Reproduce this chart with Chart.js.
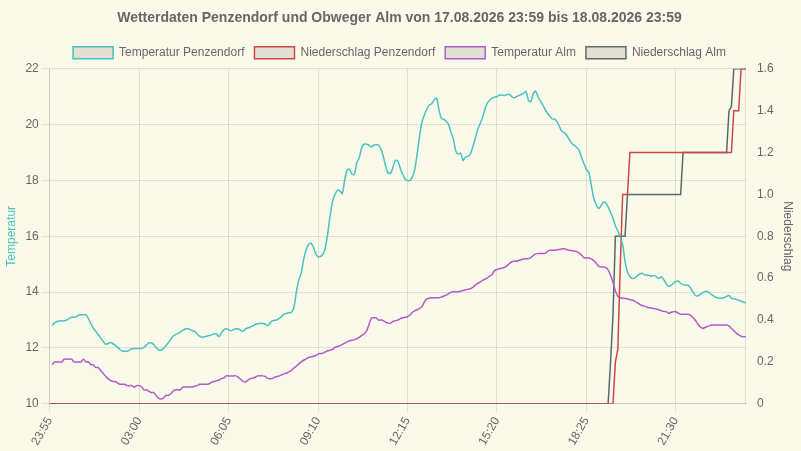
<!DOCTYPE html>
<html>
<head>
<meta charset="utf-8">
<title>Wetterdaten</title>
<script src="https://cdn.jsdelivr.net/npm/chart.js@4.4.1/dist/chart.umd.min.js"></script>
<style>
    html, body { margin: 0; padding: 0; background: #fafaeb; }
    #wrap { width: 801px; height: 451px; position: relative; }
</style>
</head>
<body>
<div id="wrap"><canvas id="weather_chart"></canvas></div>
<script>
// 5-minute readings, 17.08. 23:55 to 18.08. 23:55
const start_minutes = 23 * 60 + 55;
const step_minutes = 5;
const label_every = 37;

const temp_penzendorf = [
    null, 12.8, 12.9, 12.95, 12.97, 12.97, 12.97, 13.0, 13.05, 13.1,
    13.1, 13.12, 13.18, 13.19, 13.19, 13.19, 13.05, 12.87, 12.71, 12.6,
    12.49, 12.37, 12.25, 12.14, 12.15, 12.2, 12.16, 12.1, 12.03, 11.95,
    11.89, 11.88, 11.88, 11.92, 11.97, 11.98, 11.98, 11.98, 11.98, 12.02,
    12.1, 12.18, 12.18, 12.13, 12.02, 11.93, 11.92, 11.98, 12.07, 12.18,
    12.3, 12.42, 12.48, 12.52, 12.57, 12.63, 12.68, 12.7, 12.66, 12.62,
    12.59, 12.5, 12.42, 12.38, 12.4, 12.42, 12.45, 12.47, 12.51, 12.5,
    12.4, 12.54, 12.65, 12.69, 12.65, 12.62, 12.65, 12.69, 12.68, 12.63,
    12.6, 12.68, 12.72, 12.75, 12.79, 12.84, 12.87, 12.88, 12.88, 12.86,
    12.8, 12.87, 12.97, 12.99, 13.01, 13.06, 13.13, 13.21, 13.24, 13.26,
    13.28, 13.46, 14.0, 14.42, 14.68, 15.15, 15.5, 15.7, 15.75, 15.63,
    15.38, 15.26, 15.28, 15.35, 15.6, 16.1, 16.75, 17.25, 17.5, 17.65,
    17.63, 17.53, 18.0, 18.38, 18.4, 18.22, 18.22, 18.63, 18.8, 19.16,
    19.3, 19.3, 19.27, 19.2, 19.26, 19.28, 19.27, 19.13, 18.85, 18.5,
    18.26, 18.26, 18.48, 18.72, 18.69, 18.44, 18.22, 18.05, 18.0, 18.0,
    18.13, 18.4, 18.95, 19.6, 20.1, 20.35, 20.56, 20.7, 20.75, 20.88,
    20.95, 20.55, 20.22, 20.19, 20.12, 20.0, 19.72, 19.47, 19.05, 18.95,
    18.98, 18.72, 18.84, 18.86, 18.94, 19.2, 19.5, 19.82, 20.02, 20.25,
    20.55, 20.77, 20.87, 20.95, 20.99, 21.0, 21.06, 21.06, 21.04, 21.07,
    21.09, 21.02, 20.96, 21.0, 21.04, 21.08, 21.12, 21.19, 20.88, 20.82,
    21.1, 21.2, 21.0, 20.84, 20.7, 20.53, 20.4, 20.29, 20.2, 20.2,
    20.08, 19.9, 19.75, 19.7, 19.6, 19.45, 19.32, 19.26, 19.18, 19.08,
    18.83, 18.6, 18.4, 18.28, 17.85, 17.38, 17.15, 17.0, 17.08, 17.22,
    17.2, 17.05, 16.85, 16.65, 16.38, 16.2, 15.97, 15.7, 15.1, 14.72,
    14.55, 14.49, 14.5, 14.58, 14.64, 14.68, 14.62, 14.61, 14.6, 14.57,
    14.6, 14.55, 14.49, 14.55, 14.45, 14.3, 14.21, 14.24, 14.32, 14.38,
    14.4, 14.31, 14.27, 14.25, 14.25, 14.16, 14.02, 13.89, 13.86, 13.91,
    13.97, 14.02, 14.02, 13.96, 13.9, 13.84, 13.8, 13.78, 13.78, 13.8,
    13.85, 13.88, 13.78, 13.76, 13.74, 13.71, 13.68, 13.64, 13.62
];

const rain_penzendorf = [
    0,0,0,0,0,0,0,0,0,0, 0,0,0,0,0,0,0,0,0,0, 0,0,0,0,0,0,0,0,0,0,
    0,0,0,0,0,0,0,0,0,0, 0,0,0,0,0,0,0,0,0,0, 0,0,0,0,0,0,0,0,0,0,
    0,0,0,0,0,0,0,0,0,0, 0,0,0,0,0,0,0,0,0,0, 0,0,0,0,0,0,0,0,0,0,
    0,0,0,0,0,0,0,0,0,0, 0,0,0,0,0,0,0,0,0,0, 0,0,0,0,0,0,0,0,0,0,
    0,0,0,0,0,0,0,0,0,0, 0,0,0,0,0,0,0,0,0,0, 0,0,0,0,0,0,0,0,0,0,
    0,0,0,0,0,0,0,0,0,0, 0,0,0,0,0,0,0,0,0,0, 0,0,0,0,0,0,0,0,0,0,
    0,0,0,0,0,0,0,0,0,0, 0,0,0,0,0,0,0,0,0,0, 0,0,0,0,0,0,0,0,0,0,
    0,0,0,0,0,0,0,0,0,0, 0,0,0,0,0,0,0,0,0,0, 0,0,0,0,
    0.2, 0.26, 0.65, 1.0, 1.0, 1.0,
    1.2, 1.2, 1.2, 1.2, 1.2, 1.2, 1.2, 1.2, 1.2, 1.2,
    1.2, 1.2, 1.2, 1.2, 1.2, 1.2, 1.2, 1.2, 1.2, 1.2,
    1.2, 1.2, 1.2, 1.2, 1.2, 1.2, 1.2, 1.2, 1.2, 1.2,
    1.2, 1.2, 1.2, 1.2, 1.2, 1.2, 1.2, 1.2, 1.2, 1.2,
    1.2, 1.2, 1.2,
    1.4, 1.4, 1.4, 1.6, 1.6, 1.6
];

const temp_alm = [
    null, 11.4, 11.5, 11.5, 11.5, 11.5, 11.6, 11.6, 11.6, 11.6,
    11.5, 11.5, 11.5, 11.5, 11.6, 11.5, 11.5, 11.4, 11.4, 11.3,
    11.3, 11.2, 11.1, 11.0, 10.9, 10.85, 10.8, 10.8, 10.75, 10.7,
    10.7, 10.7, 10.65, 10.65, 10.65, 10.6, 10.65, 10.65, 10.6, 10.5,
    10.5, 10.45, 10.4, 10.4, 10.3, 10.2, 10.17, 10.2, 10.3, 10.3,
    10.35, 10.45, 10.5, 10.5, 10.5, 10.6, 10.6, 10.6, 10.6, 10.6,
    10.63, 10.65, 10.7, 10.7, 10.7, 10.7, 10.72, 10.77, 10.8, 10.83,
    10.85, 10.9, 10.93, 11.0, 11.0, 11.0, 11.0, 11.0, 10.95, 10.88,
    10.8, 10.78, 10.85, 10.9, 10.92, 10.95, 11.0, 11.0, 11.0, 10.98,
    10.92, 10.9, 10.9, 10.95, 10.98, 11.0, 11.04, 11.08, 11.1, 11.15,
    11.2, 11.28, 11.35, 11.43, 11.5, 11.56, 11.6, 11.66, 11.68, 11.7,
    11.73, 11.78, 11.8, 11.81, 11.86, 11.9, 11.92, 11.95, 12.02, 12.05,
    12.08, 12.12, 12.17, 12.22, 12.26, 12.28, 12.29, 12.33, 12.38, 12.44,
    12.5, 12.6, 12.82, 13.06, 13.08, 13.08, 13.0, 13.0, 12.98, 12.92,
    12.89, 12.89, 12.95, 12.98, 13.0, 13.05, 13.08, 13.1, 13.12, 13.18,
    13.28, 13.33, 13.37, 13.42, 13.48, 13.65, 13.76, 13.78, 13.8, 13.8,
    13.8, 13.8, 13.82, 13.86, 13.89, 13.95, 13.99, 14.01, 14.01, 14.01,
    14.03, 14.06, 14.08, 14.1, 14.12, 14.17, 14.25, 14.31, 14.36, 14.42,
    14.46, 14.51, 14.57, 14.63, 14.77, 14.81, 14.84, 14.86, 14.88, 14.93,
    15.01, 15.08, 15.11, 15.11, 15.13, 15.16, 15.19, 15.2, 15.2, 15.24,
    15.31, 15.37, 15.38, 15.38, 15.38, 15.39, 15.46, 15.5, 15.5, 15.5,
    15.52, 15.53, 15.55, 15.55, 15.52, 15.5, 15.49, 15.47, 15.45, 15.4,
    15.33, 15.23, 15.23, 15.22, 15.19, 15.13, 15.04, 14.93, 14.9, 14.9,
    14.89, 14.8, 14.6, 14.35, 14.05, 13.85, 13.8, 13.78, 13.77, 13.76,
    13.73, 13.72, 13.68, 13.62, 13.57, 13.52, 13.5, 13.46, 13.44, 13.43,
    13.41, 13.39, 13.37, 13.33, 13.31, 13.3, 13.24, 13.28, 13.3, 13.3,
    13.25, 13.21, 13.21, 13.21, 13.21, 13.18, 13.1, 13.0, 12.88, 12.76,
    12.71, 12.73, 12.77, 12.8, 12.82, 12.82, 12.82, 12.82, 12.82, 12.82,
    12.82, 12.79, 12.7, 12.62, 12.53, 12.47, 12.42, 12.4, 12.4
];

const rain_alm = [
    0,0,0,0,0,0,0,0,0,0, 0,0,0,0,0,0,0,0,0,0, 0,0,0,0,0,0,0,0,0,0,
    0,0,0,0,0,0,0,0,0,0, 0,0,0,0,0,0,0,0,0,0, 0,0,0,0,0,0,0,0,0,0,
    0,0,0,0,0,0,0,0,0,0, 0,0,0,0,0,0,0,0,0,0, 0,0,0,0,0,0,0,0,0,0,
    0,0,0,0,0,0,0,0,0,0, 0,0,0,0,0,0,0,0,0,0, 0,0,0,0,0,0,0,0,0,0,
    0,0,0,0,0,0,0,0,0,0, 0,0,0,0,0,0,0,0,0,0, 0,0,0,0,0,0,0,0,0,0,
    0,0,0,0,0,0,0,0,0,0, 0,0,0,0,0,0,0,0,0,0, 0,0,0,0,0,0,0,0,0,0,
    0,0,0,0,0,0,0,0,0,0, 0,0,0,0,0,0,0,0,0,0, 0,0,0,0,0,0,0,0,0,0,
    0,0,0,0,0,0,0,0,0,0, 0,0,0,0,0,0,0,0,0,0, 0,0,
    0.2, 0.42,
    0.8, 0.8, 0.8, 0.8, 0.8,
    1.0, 1.0, 1.0, 1.0, 1.0, 1.0, 1.0, 1.0, 1.0, 1.0,
    1.0, 1.0, 1.0, 1.0, 1.0, 1.0, 1.0, 1.0, 1.0, 1.0,
    1.0, 1.0, 1.0,
    1.2, 1.2, 1.2, 1.2, 1.2, 1.2, 1.2, 1.2, 1.2, 1.2,
    1.2, 1.2, 1.2, 1.2, 1.2, 1.2, 1.2, 1.2, 1.2,
    1.4, 1.42,
    1.6, 1.6, 1.6, 1.6, 1.6, 1.6
];

// time labels for every reading
const time_labels = [];
for (let i = 0; i < temp_penzendorf.length; i++) {
    const m = (start_minutes + i * step_minutes) % (24 * 60);
    const hh = String(Math.floor(m / 60)).padStart(2, '0');
    const mm = String(m % 60).padStart(2, '0');
    time_labels.push(hh + ':' + mm);
}

const text_gray = '#666';
const color_temp_penzendorf = 'rgb(75, 192, 192)';
const color_rain_penzendorf = 'rgb(204, 70, 70)';
const color_temp_alm = 'rgb(180, 90, 200)';
const color_rain_alm = 'rgb(90, 105, 105)';

Chart.defaults.font.family = "'Liberation Sans', Arial, sans-serif";
Chart.defaults.color = text_gray;

const weather_chart = document.getElementById('weather_chart');

new Chart(weather_chart, {
    type: 'line',
    data: {
        labels: time_labels,
        datasets: [{
            label: 'Temperatur Penzendorf',
            data: temp_penzendorf,
            borderColor: color_temp_penzendorf,
            backgroundColor: 'rgba(0,0,0,0.1)',
            borderWidth: 1.5,
            pointRadius: 0,
            tension: 0.3,
            yAxisID: 'y',
        }, {
            label: 'Niederschlag Penzendorf',
            data: rain_penzendorf,
            borderColor: color_rain_penzendorf,
            backgroundColor: 'rgba(0,0,0,0.1)',
            borderWidth: 1.5,
            pointRadius: 0,
            yAxisID: 'y1',
        }, {
            label: 'Temperatur Alm',
            data: temp_alm,
            borderColor: color_temp_alm,
            backgroundColor: 'rgba(0,0,0,0.1)',
            borderWidth: 1.5,
            pointRadius: 0,
            tension: 0.3,
            yAxisID: 'y',
        }, {
            label: 'Niederschlag Alm',
            data: rain_alm,
            borderColor: color_rain_alm,
            backgroundColor: 'rgba(0,0,0,0.1)',
            borderWidth: 1.5,
            pointRadius: 0,
            yAxisID: 'y1',
        }]
    },
    options: {
        responsive: true,
        maintainAspectRatio: false,
        animation: false,
        layout: {
            padding: { left: 0, right: 2, top: 0, bottom: 0 }
        },
        plugins: {
            title: {
                display: true,
                text: 'Wetterdaten Penzendorf und Obweger Alm von 17.08.2026 23:59 bis 18.08.2026 23:59',
                font: { size: 14, weight: 'bold' },
                color: text_gray,
            },
            legend: {
                labels: { boxWidth: 40, font: { size: 12 } }
            },
            tooltip: { enabled: false }
        },
        scales: {
            x: {
                ticks: {
                    autoSkip: false,
                    minRotation: 60,
                    maxRotation: 60,
                    font: { size: 12 },
                    callback: function (value, index) {
                        return index % label_every === 0 ? this.getLabelForValue(value) : null;
                    }
                }
            },
            y: {
                position: 'left',
                min: 10,
                max: 22,
                ticks: { stepSize: 2, font: { size: 12 } },
                title: {
                    display: true,
                    text: 'Temperatur',
                    color: color_temp_penzendorf,
                    font: { size: 12 }
                }
            },
            y1: {
                position: 'right',
                min: 0,
                max: 1.6,
                ticks: { stepSize: 0.2, font: { size: 12 } },
                grid: { drawOnChartArea: false, tickColor: 'transparent' },
                title: {
                    display: true,
                    text: 'Niederschlag',
                    font: { size: 12 }
                }
            }
        }
    }
});
</script>
</body>
</html>
